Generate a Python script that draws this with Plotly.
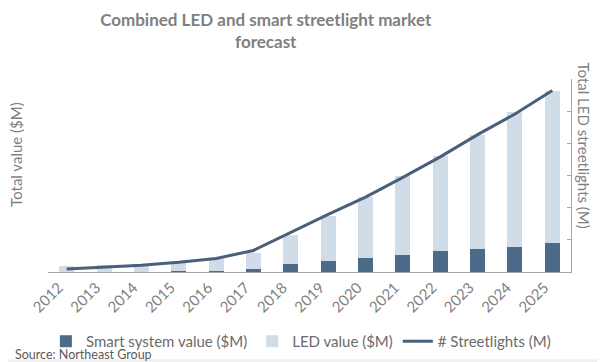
import plotly.graph_objects as go

years = [str(y) for y in range(2012, 2026)]
smart_value = [0, 0, 0, 30, 30, 90, 240, 330, 450, 520, 640, 730, 790, 910]
led_value = [180, 210, 240, 240, 360, 510, 910, 1400, 1880, 2450, 2960, 3540, 4180, 4730]
streetlights = [0.9, 1.5, 2.1, 3.0, 4.2, 6.7, 12.4, 17.9, 23.3, 29.4, 35.8, 42.7, 49.1, 56.4]

DARK = "#4b6b88"
LIGHT = "#d0dde8"
LINE = "#4a6079"
GRAY = "#7f7f7f"
FONT = "Lato"

fig = go.Figure()
fig.add_trace(go.Bar(x=years, y=smart_value, name="Smart system value ($M)",
                     marker=dict(color=DARK, line=dict(width=0))))
fig.add_trace(go.Bar(x=years, y=led_value, name="LED value ($M)",
                     marker=dict(color=LIGHT, line=dict(width=0))))
fig.add_trace(go.Scatter(x=years, y=streetlights, name="# Streetlights (M)", yaxis="y2",
                         mode="lines", line=dict(color=LINE, width=3)))

fig.update_layout(
    width=605, height=362,
    margin=dict(l=40, r=42, t=71, b=93),
    paper_bgcolor="white", plot_bgcolor="white",
    barmode="stack", bargap=0.6,
    font=dict(family=FONT, color=GRAY, size=14),
    title=dict(text="<b>Combined LED and smart streetlight market<br>forecast</b>",
               x=0.426, xanchor="center", xref="container",
               y=0.95, yanchor="middle", yref="container",
               font=dict(family=FONT, size=17, color=GRAY)),
    xaxis=dict(showline=True, linecolor="#a6a6a6", linewidth=1, ticks="",
               tickangle=-45, tickfont=dict(size=15, color=GRAY), showgrid=False,
               ticklabelshift=-8),
    yaxis=dict(range=[0, 6000], showgrid=False, showticklabels=False, ticks="",
               showline=False, zeroline=False),
    yaxis2=dict(range=[0, 60], dtick=10, overlaying="y", side="right", showgrid=False,
                showticklabels=False, ticks="inside", ticklen=4, tickcolor="#a6a6a6",
                showline=True, linecolor="#a6a6a6", linewidth=1, zeroline=False),
    legend=dict(orientation="h", x=-0.004, xanchor="left", y=-0.36, yanchor="middle",
                font=dict(size=15, color="#6b6b6b"), traceorder="normal",
                itemwidth=30, bgcolor="rgba(0,0,0,0)"),
    showlegend=True,
)

# axis titles
fig.add_annotation(text="Total value ($M)", xref="paper", yref="paper",
                   x=-0.06, y=0.61, xanchor="center", yanchor="middle", textangle=-90,
                   showarrow=False, font=dict(size=15, color=GRAY, family=FONT))
fig.add_annotation(text="Total LED streetlights (M)", xref="paper", yref="paper",
                   x=1.025, y=0.655, xanchor="center", yanchor="middle", textangle=90,
                   showarrow=False, font=dict(size=15, color=GRAY, family=FONT))

fig.add_annotation(text="Source: Northeast Group", xref="paper", yref="paper",
                   x=-0.067, y=-0.425, xanchor="left", yanchor="middle", showarrow=False,
                   font=dict(size=12.5, color="#595959", family=FONT))

# light gray frame strips at bottom and right edges of the picture
fig.add_shape(type="rect", xref="paper", yref="paper",
              x0=-0.1, x1=1.2, y0=(269 - 362) / 198 - 0.01, y1=(269 - 358.5) / 198,
              fillcolor="#f0f0f0", line=dict(width=0), layer="below")
fig.add_shape(type="rect", xref="paper", yref="paper",
              x0=(600 - 40) / 523, x1=(610 - 40) / 523, y0=-0.5, y1=1.4,
              fillcolor="#f0f0f0", line=dict(width=0), layer="below")

fig.write_html("out.html")
